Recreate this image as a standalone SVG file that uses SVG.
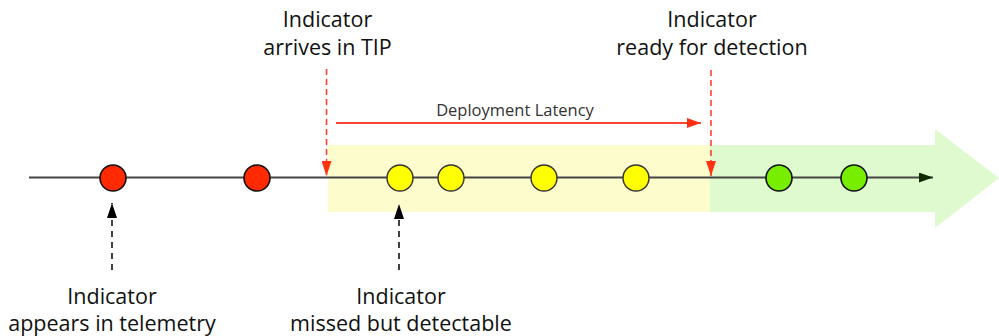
<svg xmlns="http://www.w3.org/2000/svg" width="999" height="336" viewBox="0 0 999 336">
  <style>
    .lbl { font-family: "Open Sans", "Noto Sans", sans-serif; font-size: 21.5px; fill: #111; text-anchor: middle; }
    .small { font-family: "Open Sans", "Noto Sans", sans-serif; font-size: 16.5px; fill: #333; text-anchor: middle; }
    .red { fill: #ff2a00; stroke: #111; stroke-width: 1.6; }
    .yel { fill: #ffff00; stroke: #333; stroke-width: 1.4; }
    .grn { fill: #77ee00; stroke: #111; stroke-width: 1.6; }
    .rdash { stroke: #ff4433; stroke-width: 1.6; stroke-dasharray: 6 4; fill: none; }
    .kdash { stroke: #111; stroke-width: 1.6; stroke-dasharray: 6 5; fill: none; }
  </style>
  <defs>
    <marker id="headRedH" viewBox="0 0 14 10" refX="14" refY="5" markerWidth="14" markerHeight="10" markerUnits="userSpaceOnUse" orient="auto">
      <path d="M0,0 L14,5 L0,10 z" fill="#ff3311"/>
    </marker>
    <marker id="headRedV" viewBox="0 0 15 10" refX="15" refY="5" markerWidth="15" markerHeight="10" markerUnits="userSpaceOnUse" orient="auto">
      <path d="M0,0 L15,5 L0,10 z" fill="#ff3311"/>
    </marker>
    <marker id="headBlk" viewBox="0 0 15 10" refX="15" refY="5" markerWidth="15" markerHeight="10" markerUnits="userSpaceOnUse" orient="auto">
      <path d="M0,0 L15,5 L0,10 z" fill="#000"/>
    </marker>
    <marker id="headDark" viewBox="0 0 14 10" refX="14" refY="5" markerWidth="14" markerHeight="10" markerUnits="userSpaceOnUse" orient="auto">
      <path d="M0,0 L14,5 L0,10 z" fill="#0d2a00"/>
    </marker>
  </defs>

  <!-- background bands -->
  <g id="band-pending">
    <rect x="328" y="145" width="382" height="67" fill="#fdfccc"/>
  </g>
  <g id="band-ready">
    <path d="M710,145 H935 V129 L999,178 L935,228 V212 H710 Z" fill="#e0fad0"/>
  </g>

  <g id="connectors">
    <!-- timeline -->
    <line x1="29" y1="177.5" x2="933" y2="177.5" stroke="#444" stroke-width="2" marker-end="url(#headDark)"/>
    <!-- deployment latency span -->
    <line x1="336" y1="123" x2="701" y2="123" stroke="#ff4433" stroke-width="1.8" marker-end="url(#headRedH)"/>
    <!-- drop markers -->
    <line class="rdash" x1="326.5" y1="69" x2="326.5" y2="176" marker-end="url(#headRedV)"/>
    <line class="rdash" x1="711" y1="70" x2="711" y2="176" marker-end="url(#headRedV)"/>
    <!-- pointers from below -->
    <line class="kdash" x1="112" y1="270" x2="112" y2="203" marker-end="url(#headBlk)"/>
    <line class="kdash" x1="399" y1="270" x2="399" y2="204" marker-end="url(#headBlk)"/>
  </g>

  <g id="events-red">
    <circle class="red" cx="113" cy="178" r="13"/>
    <circle class="red" cx="257" cy="178" r="13"/>
  </g>
  <g id="events-yellow">
    <circle class="yel" cx="400" cy="178" r="13"/>
    <circle class="yel" cx="451" cy="178" r="13"/>
    <circle class="yel" cx="544" cy="178" r="13"/>
    <circle class="yel" cx="636" cy="178" r="13"/>
  </g>
  <g id="events-green">
    <circle class="grn" cx="779" cy="178" r="13"/>
    <circle class="grn" cx="854" cy="178" r="13"/>
  </g>

  <g id="label-latency">
    <text class="small" x="515" y="116">Deployment Latency</text>
  </g>
  <g id="label-arrives">
    <text class="lbl" x="327.5" y="27">Indicator</text>
    <text class="lbl" x="327.5" y="55">arrives in TIP</text>
  </g>
  <g id="label-ready">
    <text class="lbl" x="712" y="27">Indicator</text>
    <text class="lbl" x="712" y="55">ready for detection</text>
  </g>
  <g id="label-appears">
    <text class="lbl" x="112" y="304">Indicator</text>
    <text class="lbl" x="112" y="331">appears in telemetry</text>
  </g>
  <g id="label-missed">
    <text class="lbl" x="401" y="304" fill="#000">Indicator</text>
    <text class="lbl" x="401" y="331" fill="#000">missed but detectable</text>
  </g>
</svg>
